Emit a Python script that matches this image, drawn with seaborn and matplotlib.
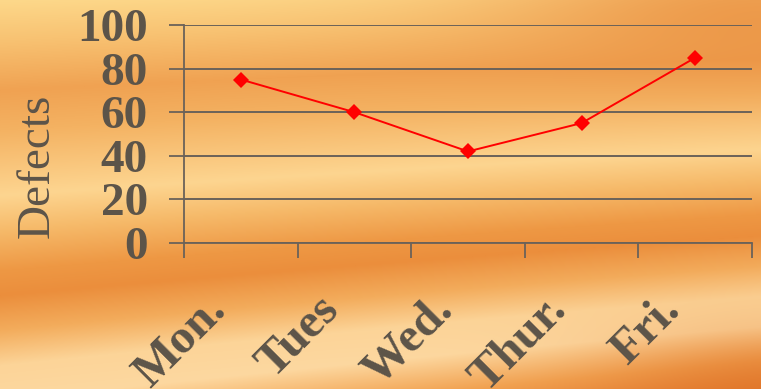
import numpy as np
import pandas as pd
import matplotlib
matplotlib.use("Agg")
import matplotlib.pyplot as plt
import matplotlib.colors as mcolors
from matplotlib.transforms import ScaledTranslation
import seaborn as sns

# ---- data ----
days = ["Mon.", "Tues", "Wed.", "Thur.", "Fri."]
defects = [75, 60, 42, 55, 85]
y_ticks = [0, 20, 40, 60, 80, 100]
y_label = "Defects"

sns.set_theme(style="white")
plt.rcParams["font.family"] = ["Liberation Serif", "DejaVu Serif"]

W, H = 761, 389
fig = plt.figure(figsize=(W / 100, H / 100), dpi=100)

# ---- decorative orange background ----
yy, xx = np.mgrid[0:H, 0:W].astype(float)
t = yy + xx * (0.03 + 0.08 * yy / H)
stops_t = [0, 40, 90, 130, 195, 230, 270, 295, 330, 365, 400, 440, 480]
stops_c = ["#fdd88a", "#f8c272", "#f0a252", "#f4b262", "#fdd590", "#f6ba6a",
           "#ee9844", "#eb8e3c", "#f3ac5c", "#fcd498", "#fdd8a0", "#f2a453",
           "#e47c30"]
rgb = np.array([mcolors.to_rgb(c) for c in stops_c])
img = np.stack([np.interp(t, stops_t, rgb[:, k]) for k in range(3)], axis=-1)
# darker zones top-right and bottom-right
dark = np.array(mcolors.to_rgb("#e8893a"))
dark2 = np.array(mcolors.to_rgb("#e07428"))
w1 = np.exp(-(((xx - 760) / 260) ** 2 + ((yy - 10) / 70) ** 2))
w2 = np.exp(-(((xx - 800) / 190) ** 2 + ((yy - 420) / 80) ** 2))
img = img * (1 - 0.7 * w1[..., None]) + dark * 0.7 * w1[..., None]
img = img * (1 - 0.9 * w2[..., None]) + dark2 * 0.9 * w2[..., None]
bg = fig.add_axes([0, 0, 1, 1], zorder=-10)
bg.imshow(np.clip(img, 0, 1), aspect="auto", interpolation="bilinear")
bg.set_axis_off()

# ---- chart ----
ax = fig.add_axes([184 / W, 1 - 243 / H, (752 - 184) / W, (243 - 25) / H])
ax.set_facecolor("none")
df = pd.DataFrame({"day": np.arange(len(days)), "defects": defects})
sns.lineplot(data=df, x="day", y="defects", ax=ax, color="#ff0000",
             linewidth=1.4, marker="D", markersize=8, markeredgewidth=0,
             zorder=5)

gray = "#5c5449"
ax.set_xlim(-0.5, len(days) - 0.5)
ax.set_ylim(0, 100)
ax.set_yticks(y_ticks)
ax.set_yticklabels([str(v) for v in y_ticks], fontsize=34, fontweight="bold",
                   color=gray)
ax.grid(axis="y", color="#6b6259", linewidth=1.4)
ax.grid(axis="x", visible=False)

ax.set_xticks(np.arange(-0.5, len(days)), labels=[""] * (len(days) + 1))
ax.set_xticks(np.arange(len(days)), labels=days, minor=True)
ax.tick_params(axis="x", which="major", direction="out", length=11,
               width=1.3, color="#6b6259", bottom=True)
ax.tick_params(axis="x", which="minor", length=0, pad=43)
ax.tick_params(axis="y", which="major", direction="out", length=11,
               width=1.3, color="#6b6259", left=True, pad=15)
for lab in ax.get_xticklabels(minor=True):
    lab.set_fontsize(35)
    lab.set_fontweight("bold")
    lab.set_color(gray)
    lab.set_rotation(45)
    lab.set_rotation_mode("anchor")
    lab.set_ha("right")
    lab.set_va("center")
    lab.set_transform(lab.get_transform() +
                      ScaledTranslation(-0.22, 0, fig.dpi_scale_trans))

for s in ["top", "right"]:
    ax.spines[s].set_visible(False)
for s in ["left", "bottom"]:
    ax.spines[s].set_color("#6b6259")
    ax.spines[s].set_linewidth(1.3)
ax.set_xlabel("")
ax.set_ylabel("")

fig.text(37 / W, 1 - 166 / H, y_label, rotation=90, ha="center",
         va="center", fontsize=34, color=gray)

fig.savefig("out.png", dpi=100)
